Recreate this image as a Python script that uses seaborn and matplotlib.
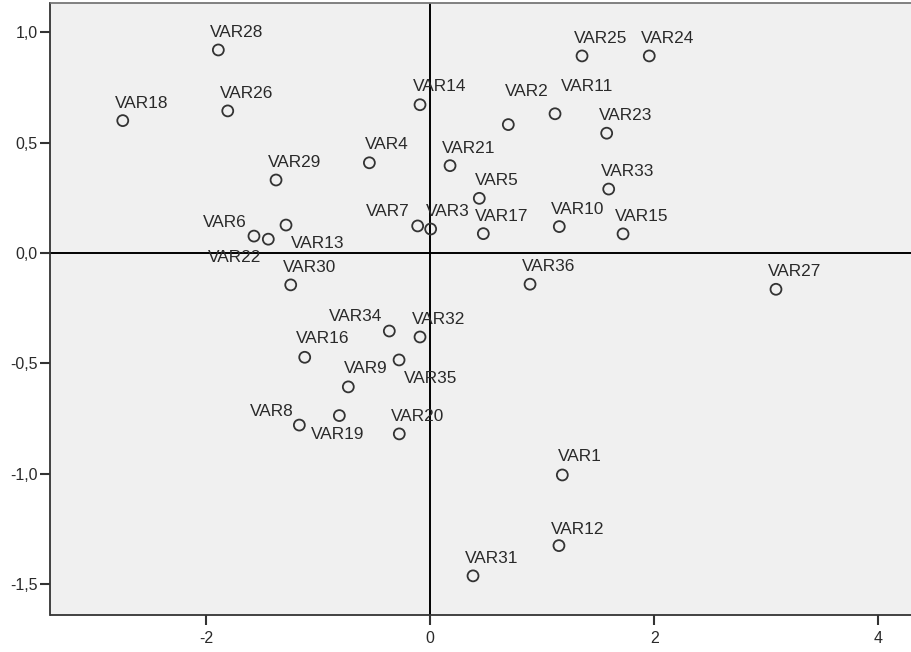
import numpy as np
import pandas as pd
import matplotlib
matplotlib.use("Agg")
import matplotlib.pyplot as plt
import seaborn as sns
from matplotlib.ticker import FuncFormatter

# coordinates of the variables
labels = ["VAR%d" % i for i in range(1, 37)]
dim1 = [1.179, 0.697, 0.004, -0.543, 0.438, -1.573, -0.112, -1.168, -0.731, 1.152,
        1.114, 1.149, -1.287, -0.091, 1.721, -1.120, 0.474, -2.744, -0.811, -0.276,
        0.177, -1.445, 1.575, 1.955, 1.355, -1.807, 3.086, -1.891, -1.376, -1.245,
        0.382, -0.091, 1.593, -0.365, -0.278, 0.891]
dim2 = [-1.005, 0.582, 0.109, 0.409, 0.248, 0.077, 0.123, -0.779, -0.606, 0.120,
        0.631, -1.325, 0.127, 0.672, 0.087, -0.472, 0.088, 0.600, -0.736, -0.819,
        0.396, 0.063, 0.543, 0.893, 0.893, 0.644, -0.164, 0.920, 0.331, -0.144,
        -1.462, -0.380, 0.290, -0.353, -0.484, -0.141]
xticks = [-2, 0, 2, 4]
yticks = [-1.5, -1.0, -0.5, 0.0, 0.5, 1.0]

df = pd.DataFrame({"label": labels, "d1": dim1, "d2": dim2})

# label placement (pixels from the marker), default is above the point
offsets = {
    "VAR2": (-3, 29, "left"), "VAR11": (6, 23, "left"),
    "VAR4": (-4, 14, "left"), "VAR3": (-5, 13, "left"), "VAR5": (-4, 13, "left"),
    "VAR1": (-4, 14, "left"), "VAR9": (-4, 14, "left"),
    "VAR7": (-8, 10, "right"), "VAR6": (-7, 9, "right"), "VAR8": (-6, 9, "right"),
    "VAR22": (-60, -23, "left"), "VAR13": (5, -23, "left"), "VAR35": (5, -23, "left"),
    "VAR19": (-28, -23, "left"), "VAR34": (-60, 10, "left"),
    "VAR12": (-8, 12, "left"), "VAR16": (-9, 14, "left"), "VAR14": (-7, 14, "left"),
}

sns.set_style("white")
plt.rcParams['font.family'] = ['Liberation Sans', 'DejaVu Sans']

fig = plt.figure(figsize=(9.12, 6.52), dpi=100)
ax = fig.add_axes([50.5 / 912, 37.5 / 652, 1 - 50.5 / 912, 612 / 652])
ax.set_facecolor("#f0f0f0")

ax.axhline(0, color="black", lw=1.4, zorder=1)
ax.axvline(0, color="black", lw=1.4, zorder=1)

sns.scatterplot(data=df, x="d1", y="d2", ax=ax, s=62, facecolor="none",
                edgecolor="#333333", linewidth=1.3, zorder=3, legend=False)

for lab, x, y in zip(labels, dim1, dim2):
    dx, dy, ha = offsets.get(lab, (-8, 13, "left"))
    ax.annotate(lab, (x, y), xytext=(dx, dy), textcoords="offset pixels",
                ha=ha, va="baseline", fontsize=12.4, color="#2a2a2a")

ax.set_xlim(-3.389, 4.30)
ax.set_ylim(-1.637, 1.135)
ax.set_xticks(xticks)
ax.set_yticks(yticks)
ax.xaxis.set_major_formatter(FuncFormatter(lambda v, p: "%d" % v))
ax.yaxis.set_major_formatter(FuncFormatter(lambda v, p: ("%.1f" % v).replace(".", ",")))
ax.tick_params(axis="both", direction="out", length=7, width=1.5, color="#333333",
               labelsize=11.5, labelcolor="#2a2a2a", bottom=True, left=True)
ax.tick_params(axis="x", pad=5)
ax.tick_params(axis="y", pad=2)
ax.set_xlabel("")
ax.set_ylabel("")

for side in ["left", "bottom"]:
    ax.spines[side].set_color("#333333")
    ax.spines[side].set_linewidth(1.3)
ax.spines["top"].set_color("#777777")
ax.spines["top"].set_linewidth(1.3)
ax.spines["right"].set_visible(False)

fig.savefig("out.png", dpi=100, facecolor="white")
